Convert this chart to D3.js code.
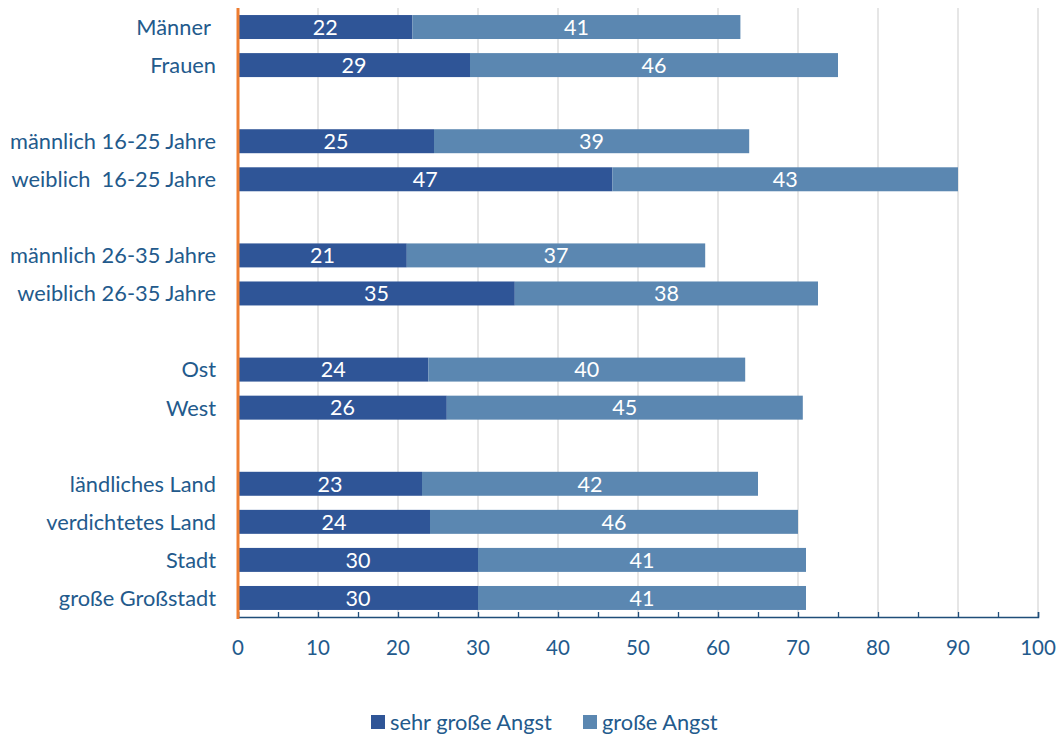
<!DOCTYPE html>
<html>
<head>
<meta charset="utf-8">
<script src="https://cdn.jsdelivr.net/npm/d3@7"></script>
<style>
  body { margin: 0; background: #fff; }
  text { font-family: Lato, "Open Sans", sans-serif; }
</style>
</head>
<body>
<script>
// rows, blank entries are the empty spacer slots between groups
var categories = ["Männer ", "Frauen", "", "männlich 16-25 Jahre", "weiblich  16-25 Jahre", " ",
  "männlich 26-35 Jahre", "weiblich 26-35 Jahre", "  ", "Ost", "West", "   ",
  "ländliches Land", "verdichtetes Land", "Stadt", "große Großstadt"];
var sehrGross = [21.8, 29.0, null, 24.5, 46.8, null, 21.1, 34.6, null, 23.8, 26.1, null, 23.0, 24.0, 30.0, 30.0];
var gross = [41.0, 46.0, null, 39.4, 43.2, null, 37.3, 37.9, null, 39.6, 44.5, null, 42.0, 46.0, 41.0, 41.0];
var seriesNames = ["sehr große Angst", "große Angst"];
var xTicks = [0, 10, 20, 30, 40, 50, 60, 70, 80, 90, 100];

var W = 1059, H = 735;
var colors = ["#2f5597", "#5b87b1"];
var textColor = "#235a8c";

var svg = d3.select("body").append("svg").attr("width", W).attr("height", H);

var x = d3.scaleLinear().domain([0, 100]).range([238, 1038]);
var y = d3.scaleBand().domain(categories).range([8, 617]).paddingInner(0.37).paddingOuter(0.185);

// gridlines
svg.append("g").selectAll("line").data(xTicks.slice(1)).enter().append("line")
  .attr("x1", d => x(d)).attr("x2", d => x(d))
  .attr("y1", 8).attr("y2", 617)
  .attr("stroke", "#d9d9d9").attr("stroke-width", 1.3);

var rows = categories.map((c, i) => ({ cat: c, a: sehrGross[i], b: gross[i] })).filter(r => r.a != null);

var bars = svg.append("g");
rows.forEach(function(r) {
  var segs = [{ v: r.a, x0: 0, c: colors[0] }, { v: r.b, x0: r.a, c: colors[1] }];
  segs.forEach(function(s) {
    bars.append("rect")
      .attr("x", x(s.x0)).attr("y", y(r.cat))
      .attr("width", x(s.x0 + s.v) - x(s.x0)).attr("height", y.bandwidth())
      .attr("fill", s.c);
    bars.append("text")
      .attr("x", (x(s.x0) + x(s.x0 + s.v)) / 2)
      .attr("y", y(r.cat) + y.bandwidth() / 2)
      .attr("dy", "0.36em").attr("text-anchor", "middle")
      .attr("fill", "#fff").attr("font-size", 21.5)
      .text(Math.round(s.v));
  });
});

// category labels
svg.append("g").selectAll("text").data(rows).enter().append("text")
  .attr("x", 216).attr("y", d => y(d.cat) + y.bandwidth() / 2)
  .attr("dy", "0.36em").attr("text-anchor", "end")
  .attr("fill", textColor).attr("font-size", 21.8)
  .style("white-space", "pre")
  .text(d => d.cat);

// x axis
var axis = svg.append("g").attr("transform", "translate(0,617)")
  .call(d3.axisBottom(x).tickValues(d3.range(0, 101, 5)).tickSize(-5).tickFormat(""));
axis.select(".domain").attr("stroke", "#1f4e79").attr("stroke-width", 1.5);
axis.selectAll(".tick line").attr("stroke", "#1f4e79").attr("stroke-width", 1.3);

svg.append("g").selectAll("text").data(xTicks).enter().append("text")
  .attr("x", d => x(d)).attr("y", 655)
  .attr("text-anchor", "middle").attr("fill", textColor).attr("font-size", 20.5)
  .text(d => d);

// orange baseline
svg.append("line").attr("x1", x(0)).attr("x2", x(0)).attr("y1", 8).attr("y2", 619)
  .attr("stroke", "#ed7d31").attr("stroke-width", 3);

// legend
var legX = [371, 583];
var leg = svg.append("g");
seriesNames.forEach(function(n, i) {
  leg.append("rect").attr("x", legX[i]).attr("y", 715).attr("width", 14).attr("height", 14).attr("fill", colors[i]);
  leg.append("text").attr("x", legX[i] + 19).attr("y", 722).attr("dy", "0.36em")
    .attr("fill", textColor).attr("font-size", 21.8).text(n);
});
</script>
</body>
</html>
